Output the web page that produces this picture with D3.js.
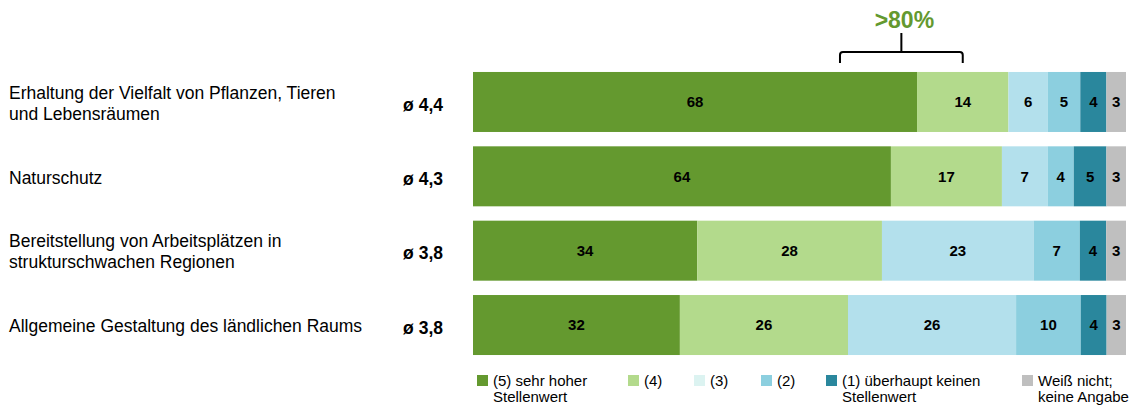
<!DOCTYPE html>
<html>
<head>
<meta charset="utf-8">
<script src="https://cdn.jsdelivr.net/npm/d3@7"></script>
<style>
  html, body { margin: 0; padding: 0; background: #fff; }
  svg { display: block; font-family: "Liberation Sans", Arial, sans-serif; }
</style>
</head>
<body>
<svg id="chart" width="1134" height="408"></svg>
<script>
// Aspects asked about, one row each
const categories = [
  ["Erhaltung der Vielfalt von Pflanzen, Tieren", "und Lebensräumen"],
  ["Naturschutz"],
  ["Bereitstellung von Arbeitsplätzen in", "strukturschwachen Regionen"],
  ["Allgemeine Gestaltung des ländlichen Raums"]
];
const averages = ["ø 4,4", "ø 4,3", "ø 3,8", "ø 3,8"];

// Answer shares in percent, per answer option (one value per row)
const s5 = [68, 64, 34, 32];
const s4 = [14, 17, 28, 26];
const s3 = [6, 7, 23, 26];
const s2 = [5, 4, 7, 10];
const s1 = [4, 5, 4, 4];
const sNA = [3, 3, 3, 3];

const seriesKeys = ["s5", "s4", "s3", "s2", "s1", "sNA"];
const seriesLabels = [
  ["(5) sehr hoher", "Stellenwert"],
  ["(4)"],
  ["(3)"],
  ["(2)"],
  ["(1) überhaupt keinen", "Stellenwert"],
  ["Weiß nicht;", "keine Angabe"]
];
const bracketLabel = ">80%";

const colors = ["#64992f", "#b3da8c", "#b3e0ec", "#8ccfdf", "#2a879d", "#bfbfbf"];
const legendColors = ["#64992f", "#b3da8c", "#dcf3f1", "#8ccfdf", "#2a879d", "#bfbfbf"];

const rows = categories.map((c, i) => ({
  idx: i,
  s5: s5[i], s4: s4[i], s3: s3[i], s2: s2[i], s1: s1[i], sNA: sNA[i]
}));

const svg = d3.select("#chart");

const barLeft = 473, barRight = 1126;
const y = d3.scaleBand()
  .domain(rows.map(r => r.idx))
  .range([64.8, 362.2])
  .paddingInner(0.193)
  .paddingOuter(0.0965);

const stack = d3.stack().keys(seriesKeys);
const stacked = stack(rows);

// Each bar fills the full width; its own total is the scale domain
const xFor = r => d3.scaleLinear()
  .domain([0, d3.sum(seriesKeys, k => r[k])])
  .range([barLeft, barRight]);

const layers = svg.append("g").selectAll("g")
  .data(stacked)
  .join("g")
  .attr("fill", (d, i) => colors[i]);

layers.selectAll("rect")
  .data(d => d)
  .join("rect")
  .attr("x", d => xFor(d.data)(d[0]))
  .attr("y", d => y(d.data.idx))
  .attr("width", d => xFor(d.data)(d[1]) - xFor(d.data)(d[0]))
  .attr("height", y.bandwidth());

// Value labels
const labelG = svg.append("g")
  .attr("font-size", 15)
  .attr("font-weight", "bold")
  .attr("fill", "#000")
  .attr("text-anchor", "middle");

stacked.forEach(layer => {
  layer.forEach(d => {
    const sx = xFor(d.data);
    labelG.append("text")
      .attr("x", (sx(d[0]) + sx(d[1])) / 2)
      .attr("y", y(d.data.idx) + y.bandwidth() / 2)
      .attr("dy", "0.36em")
      .text(d[1] - d[0]);
  });
});

// Category labels
const catG = svg.append("g").attr("font-size", 17.5).attr("fill", "#000");
categories.forEach((lines, i) => {
  const cy = y(i) + y.bandwidth() / 2 + 1;
  const lh = 21;
  const t = catG.append("text")
    .attr("x", 9)
    .attr("y", cy - (lines.length - 1) * lh / 2);
  lines.forEach((ln, j) => {
    t.append("tspan").attr("x", 9).attr("dy", j === 0 ? "0.36em" : lh).text(ln);
  });
});

// Mean scores
svg.append("g")
  .attr("font-size", 17.5)
  .attr("font-weight", "bold")
  .attr("text-anchor", "end")
  .selectAll("text")
  .data(averages)
  .join("text")
  .attr("x", 443)
  .attr("y", (d, i) => y(i) + y.bandwidth() / 2 + 2.5)
  .attr("dy", "0.36em")
  .text(d => d);

// Bracket over the first bar
const xTop = xFor(rows[0]);
const bL = xTop(56.2), bR = xTop(75), bM = (bL + bR) / 2;
const bTop = 52, bBot = 63;
svg.append("path")
  .attr("d", `M${bL},${bBot} L${bL},${bTop + 3} Q${bL},${bTop} ${bL + 3},${bTop} L${bR - 3},${bTop} Q${bR},${bTop} ${bR},${bTop + 3} L${bR},${bBot} M${bM},${bTop} L${bM},${33}`)
  .attr("fill", "none")
  .attr("stroke", "#000")
  .attr("stroke-width", 2);
svg.append("text")
  .attr("x", bM + 3)
  .attr("y", 28)
  .attr("text-anchor", "middle")
  .attr("font-size", 23)
  .attr("font-weight", "bold")
  .attr("fill", "#64992f")
  .text(bracketLabel);

// Legend
const legendX = [477, 628, 694, 761, 826, 1022];
const legG = svg.append("g").attr("font-size", 15).attr("fill", "#000");
seriesLabels.forEach((lines, i) => {
  const g = legG.append("g").attr("transform", `translate(${legendX[i]},0)`);
  g.append("rect").attr("x", 0).attr("y", 375).attr("width", 11).attr("height", 11).attr("fill", legendColors[i]);
  lines.forEach((ln, j) => {
    g.append("text").attr("x", 16).attr("y", 386 + j * 16).text(ln);
  });
});
</script>
</body>
</html>
